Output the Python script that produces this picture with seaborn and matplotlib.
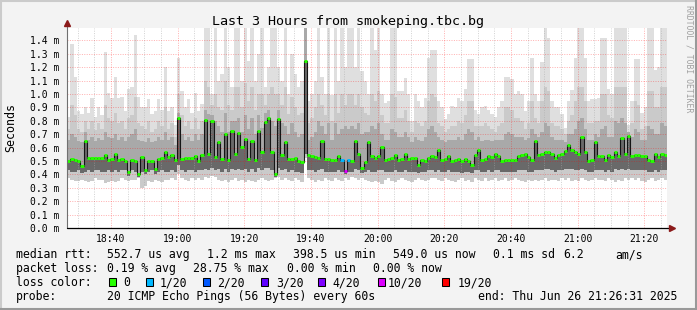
import numpy as np
import matplotlib
matplotlib.use("Agg")
import matplotlib.pyplot as plt
import seaborn as sns
from matplotlib.patches import Rectangle
from matplotlib.lines import Line2D

W, H = 697, 310

title = "Last 3 Hours from smokeping.tbc.bg"
y_label = "Seconds"
side_text = "RRDTOOL / TOBI OETIKER"

# x axis: minutes after 18:00
x_tick_minutes = [40, 60, 80, 100, 120, 140, 160, 180, 200]
x_tick_labels = ["18:40", "19:00", "19:20", "19:40", "20:00", "20:20", "20:40", "21:00", "21:20"]
x_minor_minutes = [30, 35, 45, 50, 55, 65, 70, 75, 85, 90, 95, 105, 110, 115, 125, 130, 135,
                   145, 150, 155, 165, 170, 175, 185, 190, 195, 205]
y_ticks = [0.0, 0.1, 0.2, 0.3, 0.4, 0.5, 0.6, 0.7, 0.8, 0.9, 1.0, 1.1, 1.2, 1.3, 1.4]
y_tick_labels = ["0.0 m", "0.1 m", "0.2 m", "0.3 m", "0.4 m", "0.5 m", "0.6 m", "0.7 m",
                 "0.8 m", "0.9 m", "1.0 m", "1.1 m", "1.2 m", "1.3 m", "1.4 m"]
start_minute = 26.8   # first 60 s column
n_cols = 180

# median rtt (ms) per minute
med = [0.50, 0.515, 0.51, 0.50, 0.46, 0.65, 0.52, 0.525, 0.52, 0.52,
       0.52, 0.545, 0.51, 0.515, 0.555, 0.51, 0.515, 0.50, 0.42, 0.51,
       0.50, 0.405, 0.53, 0.43, 0.50, 0.50, 0.44, 0.515, 0.52, 0.565,
       0.53, 0.545, 0.51, 0.82, 0.515, 0.525, 0.525, 0.52, 0.535, 0.50,
       0.545, 0.805, 0.55, 0.795, 0.53, 0.64, 0.515, 0.70, 0.51, 0.725,
       0.555, 0.71, 0.605, 0.665, 0.515, 0.65, 0.51, 0.725, 0.57, 0.79,
       0.82, 0.57, 0.40, 0.815, 0.545, 0.64, 0.515, 0.515, 0.52, 0.50,
       0.495, 1.244, 0.545, 0.535, 0.53, 0.52, 0.65, 0.515, 0.515, 0.51,
       0.51, 0.54, 0.51, 0.425, 0.51, 0.50, 0.65, 0.55, 0.445, 0.49,
       0.64, 0.535, 0.525, 0.54, 0.605, 0.51, 0.515, 0.52, 0.545, 0.51,
       0.515, 0.555, 0.515, 0.52, 0.52, 0.47, 0.51, 0.50, 0.525, 0.54,
       0.53, 0.585, 0.51, 0.515, 0.535, 0.50, 0.51, 0.515, 0.50, 0.515,
       0.50, 0.47, 0.545, 0.585, 0.51, 0.515, 0.54, 0.53, 0.555, 0.54,
       0.50, 0.51, 0.51, 0.51, 0.51, 0.54, 0.545, 0.55, 0.53, 0.51,
       0.65, 0.545, 0.555, 0.57, 0.57, 0.555, 0.52, 0.545, 0.555, 0.575,
       0.62, 0.58, 0.57, 0.55, 0.68, 0.565, 0.50, 0.51, 0.64, 0.535,
       0.54, 0.51, 0.545, 0.53, 0.57, 0.54, 0.67, 0.55, 0.69, 0.54,
       0.545, 0.545, 0.54, 0.54, 0.51, 0.50, 0.555, 0.53, 0.55, 0.545]

# slowest ping per minute (ms)
hi = [0.83, 1.37, 1.13, 0.87, 0.85, 0.90, 0.86, 0.97, 0.83, 0.90,
      0.84, 1.31, 1.01, 0.97, 1.13, 0.97, 0.98, 0.87, 1.04, 1.05,
      1.44, 0.98, 0.90, 0.90, 0.965, 0.85, 0.87, 0.965, 0.88, 1.20,
      0.87, 0.90, 0.77, 1.27, 1.02, 0.90, 0.96, 0.86, 1.01, 0.87,
      0.925, 1.49, 1.49, 1.00, 1.49, 1.10, 1.15, 1.49, 1.20, 1.05,
      1.49, 1.49, 1.10, 1.49, 1.25, 1.49, 1.10, 1.30, 1.49, 1.05,
      1.20, 1.49, 1.49, 1.20, 1.10, 1.49, 1.00, 1.30, 1.15, 1.05,
      1.10, 1.49, 0.95, 1.00, 1.10, 1.49, 1.13, 1.00, 1.49, 0.99,
      1.49, 1.10, 1.49, 1.20, 1.49, 1.49, 1.20, 1.49, 1.17, 1.10,
      1.00, 1.49, 1.33, 1.49, 1.00, 0.93, 0.95, 1.49, 1.49, 1.02,
      1.02, 1.12, 1.00, 0.80, 1.00, 0.95, 0.90, 0.97, 1.27, 1.33,
      1.33, 0.95, 0.90, 0.81, 0.85, 0.91, 0.90, 0.97, 0.95, 1.04,
      1.26, 1.26, 0.88, 0.85, 0.90, 0.91, 0.88, 0.85, 0.83, 0.90,
      0.95, 1.13, 1.13, 1.11, 1.00, 1.02, 1.00, 0.87, 0.95, 1.27,
      1.00, 0.95, 1.24, 1.49, 1.42, 0.95, 0.90, 0.90, 0.85, 0.75,
      0.95, 1.03, 1.27, 1.49, 1.49, 1.27, 0.95, 0.96, 0.96, 0.97,
      1.42, 1.42, 1.04, 1.00, 1.49, 1.49, 1.49, 1.49, 0.77, 0.95,
      1.26, 1.26, 0.86, 0.90, 1.49, 1.49, 1.18, 1.20, 1.49, 1.49]

# upper edge of the medium smoke
up = [0.74, 0.92, 0.84, 0.74, 0.72, 0.80, 0.74, 0.80, 0.73, 0.78,
      0.74, 0.92, 0.82, 0.80, 0.86, 0.78, 0.80, 0.74, 0.82, 0.84,
      0.98, 0.78, 0.76, 0.74, 0.80, 0.72, 0.74, 0.80, 0.76, 0.90,
      0.74, 0.78, 0.68, 1.00, 0.84, 0.76, 0.80, 0.74, 0.82, 0.74,
      0.80, 1.10, 1.05, 0.92, 1.00, 0.90, 0.88, 1.10, 0.92, 0.88,
      1.05, 1.05, 0.90, 1.08, 0.95, 1.05, 0.88, 1.00, 1.00, 0.92,
      1.00, 1.05, 1.00, 1.00, 0.92, 1.05, 0.85, 0.98, 0.90, 0.84,
      0.86, 1.49, 0.78, 0.82, 0.90, 1.00, 0.92, 0.84, 1.00, 0.80,
      1.00, 0.86, 1.00, 0.92, 1.00, 1.00, 0.92, 1.00, 0.90, 0.86,
      0.84, 1.00, 0.95, 1.02, 0.84, 0.78, 0.78, 1.00, 0.98, 0.82,
      0.82, 0.88, 0.80, 0.72, 0.80, 0.78, 0.76, 0.80, 0.95, 1.00,
      0.98, 0.78, 0.76, 0.72, 0.74, 0.76, 0.76, 0.80, 0.78, 0.84,
      0.95, 0.95, 0.76, 0.76, 0.76, 0.78, 0.76, 0.74, 0.72, 0.76,
      0.78, 0.90, 0.90, 0.88, 0.82, 0.82, 0.80, 0.74, 0.78, 0.95,
      0.82, 0.78, 0.95, 1.05, 1.02, 0.78, 0.76, 0.76, 0.74, 0.70,
      0.80, 0.84, 0.95, 1.05, 1.05, 0.95, 0.78, 0.78, 0.80, 0.80,
      1.00, 1.00, 0.84, 0.82, 1.05, 1.05, 1.05, 1.05, 0.72, 0.78,
      0.95, 0.92, 0.74, 0.76, 1.02, 1.02, 0.90, 0.90, 1.05, 1.05]

# upper edge of the darker smoke
mid = [0.66, 0.70, 0.68, 0.65, 0.64, 0.72, 0.66, 0.68, 0.65, 0.67,
       0.66, 0.72, 0.68, 0.67, 0.70, 0.66, 0.68, 0.65, 0.68, 0.70,
       0.74, 0.66, 0.65, 0.64, 0.67, 0.64, 0.65, 0.68, 0.66, 0.72,
       0.66, 0.68, 0.62, 0.86, 0.70, 0.66, 0.68, 0.65, 0.70, 0.66,
       0.70, 0.88, 0.85, 0.84, 0.80, 0.76, 0.72, 0.86, 0.72, 0.80,
       0.80, 0.82, 0.72, 0.84, 0.74, 0.82, 0.70, 0.84, 0.75, 0.86,
       0.88, 0.80, 0.76, 0.88, 0.78, 0.76, 0.70, 0.78, 0.72, 0.68,
       0.70, 1.49, 0.66, 0.68, 0.72, 0.80, 0.76, 0.70, 0.78, 0.66,
       0.78, 0.70, 0.74, 0.76, 0.74, 0.76, 0.74, 0.78, 0.70, 0.72,
       0.72, 0.76, 0.74, 0.78, 0.70, 0.66, 0.66, 0.74, 0.72, 0.68,
       0.68, 0.72, 0.68, 0.64, 0.68, 0.66, 0.65, 0.68, 0.74, 0.76,
       0.72, 0.68, 0.66, 0.64, 0.66, 0.66, 0.66, 0.68, 0.66, 0.70,
       0.74, 0.72, 0.66, 0.68, 0.65, 0.66, 0.66, 0.65, 0.66, 0.66,
       0.66, 0.70, 0.72, 0.70, 0.68, 0.68, 0.68, 0.66, 0.67, 0.74,
       0.70, 0.68, 0.72, 0.78, 0.76, 0.68, 0.66, 0.66, 0.66, 0.64,
       0.70, 0.70, 0.74, 0.80, 0.82, 0.74, 0.66, 0.66, 0.70, 0.68,
       0.74, 0.76, 0.68, 0.68, 0.80, 0.78, 0.82, 0.78, 0.72, 0.68,
       0.74, 0.72, 0.66, 0.66, 0.76, 0.74, 0.70, 0.70, 0.78, 0.76]

# lower edge of the darker smoke
dn = [0.43, 0.42, 0.42, 0.43, 0.41, 0.42, 0.43, 0.42, 0.43, 0.43,
      0.42, 0.42, 0.43, 0.42, 0.43, 0.42, 0.43, 0.43, 0.39, 0.43,
      0.42, 0.38, 0.42, 0.40, 0.42, 0.43, 0.40, 0.42, 0.43, 0.42,
      0.42, 0.43, 0.42, 0.47, 0.43, 0.42, 0.43, 0.43, 0.42, 0.43,
      0.43, 0.44, 0.43, 0.45, 0.43, 0.44, 0.42, 0.44, 0.42, 0.44,
      0.43, 0.44, 0.43, 0.44, 0.42, 0.44, 0.42, 0.45, 0.43, 0.45,
      0.45, 0.43, 0.38, 0.45, 0.43, 0.44, 0.42, 0.43, 0.42, 0.42,
      0.41, 0.55, 0.43, 0.43, 0.42, 0.43, 0.44, 0.42, 0.42, 0.42,
      0.42, 0.43, 0.42, 0.40, 0.42, 0.42, 0.44, 0.43, 0.41, 0.42,
      0.43, 0.42, 0.42, 0.43, 0.43, 0.42, 0.42, 0.42, 0.43, 0.42,
      0.42, 0.43, 0.42, 0.42, 0.42, 0.41, 0.42, 0.42, 0.43, 0.43,
      0.42, 0.43, 0.42, 0.42, 0.43, 0.42, 0.42, 0.42, 0.41, 0.42,
      0.42, 0.41, 0.43, 0.43, 0.42, 0.42, 0.43, 0.42, 0.43, 0.43,
      0.42, 0.42, 0.42, 0.42, 0.42, 0.43, 0.43, 0.43, 0.42, 0.42,
      0.43, 0.43, 0.43, 0.44, 0.44, 0.43, 0.42, 0.43, 0.43, 0.44,
      0.44, 0.44, 0.43, 0.43, 0.44, 0.43, 0.42, 0.42, 0.43, 0.43,
      0.43, 0.42, 0.43, 0.42, 0.44, 0.43, 0.44, 0.43, 0.44, 0.43,
      0.43, 0.43, 0.43, 0.43, 0.42, 0.42, 0.43, 0.42, 0.43, 0.43]

# fastest ping per minute (ms)
lo = [0.37, 0.36, 0.35, 0.35, 0.36, 0.35, 0.345, 0.35, 0.37, 0.36,
      0.36, 0.335, 0.34, 0.35, 0.345, 0.35, 0.37, 0.36, 0.35, 0.36,
      0.36, 0.37, 0.30, 0.31, 0.35, 0.345, 0.36, 0.35, 0.345, 0.36,
      0.36, 0.37, 0.36, 0.40, 0.37, 0.36, 0.35, 0.37, 0.36, 0.37,
      0.36, 0.38, 0.37, 0.39, 0.38, 0.36, 0.35, 0.36, 0.34, 0.36,
      0.37, 0.35, 0.36, 0.34, 0.36, 0.35, 0.34, 0.36, 0.37, 0.36,
      0.35, 0.36, 0.37, 0.38, 0.36, 0.37, 0.36, 0.35, 0.37, 0.36,
      0.34, 0.52, 0.37, 0.36, 0.34, 0.36, 0.35, 0.37, 0.36, 0.35,
      0.37, 0.36, 0.35, 0.37, 0.36, 0.38, 0.37, 0.36, 0.37, 0.36,
      0.35, 0.34, 0.35, 0.34, 0.33, 0.36, 0.37, 0.35, 0.34, 0.36,
      0.37, 0.36, 0.35, 0.34, 0.36, 0.37, 0.36, 0.35, 0.36, 0.37,
      0.37, 0.36, 0.35, 0.37, 0.36, 0.35, 0.34, 0.36, 0.37, 0.35,
      0.36, 0.34, 0.37, 0.36, 0.35, 0.37, 0.35, 0.36, 0.37, 0.35,
      0.36, 0.37, 0.35, 0.36, 0.37, 0.36, 0.35, 0.34, 0.36, 0.35,
      0.36, 0.35, 0.36, 0.37, 0.35, 0.36, 0.36, 0.35, 0.37, 0.36,
      0.37, 0.35, 0.36, 0.35, 0.37, 0.36, 0.35, 0.36, 0.37, 0.36,
      0.36, 0.35, 0.37, 0.36, 0.34, 0.36, 0.35, 0.37, 0.36, 0.37,
      0.36, 0.37, 0.35, 0.34, 0.36, 0.37, 0.35, 0.36, 0.37, 0.36]

# minutes with lost pings: (column, pings lost out of 20)
loss_events = [(82, 1), (83, 10), (84, 1)]

loss_levels = ["0", "1/20", "2/20", "3/20", "4/20", "10/20", "19/20"]
loss_counts = [0, 1, 2, 3, 4, 10, 19]
loss_colors = ["#26ff00", "#00b8ff", "#0059ff", "#5e00ff", "#7e00ff", "#dd00ff", "#ff0000"]

legend_rows = [
    [("median rtt:", 16), ("552.7 us avg", 107.3), ("1.2 ms max", 207.3), ("398.5 us min", 293.3),
     ("549.0 us now", 393.3), ("0.1 ms sd", 493.3), ("6.2", 563.3), ("am/s", 615.0)],
    [("packet loss:", 16), ("0.19 % avg", 107.3), ("28.75 % max", 193.3), ("0.00 % min", 286.7),
     ("0.00 % now", 372.7)],
    [("loss color:", 16)],
    [("probe:", 16), ("20 ICMP Echo Pings (56 Bytes) every 60s", 107.3),
     ("end: Thu Jun 26 21:26:31 2025", 478.3)],
]
legend_baselines = [258.3, 272.3, 286.3, 300.3]
box_x = [109.0, 145.7, 203.3, 260.7, 318.3, 377.7, 442.3]
box_label_x = [123.3, 160.0, 217.3, 276.7, 332.0, 387.3, 457.3]

# ---------------------------------------------------------------- styling
sns.set_style("white")
MONO = ["DejaVu Sans Mono"]
plt.rcParams["font.family"] = MONO
plt.rcParams["axes.linewidth"] = 0.72

fig = plt.figure(figsize=(W / 100, H / 100), dpi=100)
fig.patch.set_facecolor("#f3f3f3")

def fx(x):
    return x / W

def fy(y):
    return 1 - y / H

ax = fig.add_axes([fx(67), fy(228), 600 / W, 200 / H])
ax.set_facecolor("white")

edges = start_minute + np.arange(n_cols + 1)

def stepv(a):
    a = np.asarray(a, dtype=float)
    return np.append(a, a[-1])

# smoke bands, outer (light) to inner (dark)
bands = [(lo, hi, "#dfdfdf"), (lo, up, "#cacaca"), (dn, mid, "#a9a9a9"), (dn, med, "#696969")]
for z, (b, t, c) in enumerate(bands):
    ax.fill_between(edges, stepv(b), stepv(t), step="post", color=c, linewidth=0, zorder=1 + z)

ymax = 200 / 134
ax.set_xlim(edges[0], edges[-1])
ax.set_ylim(0, ymax)

# grid
for m in x_minor_minutes:
    ax.axvline(m, color="#a8a8a8", alpha=0.5, lw=0.72, ls=(0, (1.0, 1.4)), zorder=6)
for m in x_tick_minutes:
    ax.axvline(m, color="#ff0000", alpha=0.3, lw=0.72, ls=(0, (1.0, 1.4)), zorder=6)
for v in y_ticks[1:]:
    ax.axhline(v, color="#ff0000", alpha=0.3, lw=0.72, ls=(0, (1.0, 1.4)), zorder=6)

# median step line (dark) and loss-coloured median marks
sns.lineplot(x=edges, y=stepv(med), drawstyle="steps-post", color="#151515",
             linewidth=0.8, estimator=None, ax=ax, zorder=7)
col_loss = {c: n for c, n in loss_events}
seg_colors = [loss_colors[loss_counts.index(col_loss.get(i, 0))] for i in range(n_cols)]
ax.hlines(med, edges[:-1], edges[1:], colors=seg_colors, linewidth=2.1, zorder=8,
          capstyle="butt")

# axes cosmetics
for s in ["top", "right", "left", "bottom"]:
    ax.spines[s].set_visible(False)
ax.add_line(Line2D([0, 0], [0, 1.025], transform=ax.transAxes, color="#707070", lw=0.8,
                   clip_on=False, zorder=9))
ax.add_line(Line2D([0, 1.008], [0, 0], transform=ax.transAxes, color="#000000", lw=0.9,
                   clip_on=False, zorder=9))
ax.plot([0], [1.025], marker="^", ms=4.2, color="#8b1a1a", transform=ax.transAxes,
        clip_on=False, zorder=10)
ax.plot([1.008], [0], marker=">", ms=4.2, color="#8b1a1a", transform=ax.transAxes,
        clip_on=False, zorder=10)

ax.set_xticks(x_tick_minutes)
ax.set_xticklabels(x_tick_labels)
ax.set_xticks(x_minor_minutes, minor=True)
ax.set_yticks(y_ticks)
ax.set_yticklabels(y_tick_labels)
ax.tick_params(axis="x", which="major", length=2, width=0.7, color="#ff6060", pad=2.2,
               labelsize=7.0, labelcolor="#000000", direction="out")
ax.tick_params(axis="x", which="minor", length=2, width=0.7, color="#a0a0a0", direction="out")
ax.tick_params(axis="y", which="major", length=0, pad=5.4, labelsize=7.0, labelcolor="#000000")
ax.set_ylabel("")

# texts
fig.text(fx(348), fy(24.7), title, ha="center", va="baseline", fontsize=9.6, color="#000000")
fig.text(fx(11), fy(127), y_label, ha="center", va="center", rotation=90, fontsize=8.4,
         color="#000000")
fig.text(fx(689), fy(5), side_text, ha="center", va="top", rotation=270, fontsize=5.9,
         color="#a0a0a0")

for row, base in zip(legend_rows, legend_baselines):
    for txt, x in row:
        fig.text(fx(x), fy(base), txt, ha="left", va="baseline", fontsize=8.3, color="#000000")

for bx, lx, lab, col in zip(box_x, box_label_x, loss_levels, loss_colors):
    fig.add_artist(Rectangle((fx(bx), fy(285.8)), 7 / W, 7.5 / H, transform=fig.transFigure,
                             facecolor=col, edgecolor="#000000", linewidth=0.75))
    fig.text(fx(lx), fy(legend_baselines[2]), lab, ha="left", va="baseline", fontsize=8.3,
             color="#000000")

# frame (shade A top/left, shade B bottom/right)
fig.add_artist(Line2D([0, 1], [fy(0.75), fy(0.75)], transform=fig.transFigure, color="#cbcbcb", lw=1.5))
fig.add_artist(Line2D([fx(0.75), fx(0.75)], [0, 1], transform=fig.transFigure, color="#cbcbcb", lw=1.5))
fig.add_artist(Line2D([0, 1], [fy(309.25), fy(309.25)], transform=fig.transFigure, color="#999999", lw=1.5))
fig.add_artist(Line2D([fx(696.25), fx(696.25)], [0, 1], transform=fig.transFigure, color="#999999", lw=1.5))

fig.savefig("out.png", dpi=100, facecolor=fig.get_facecolor())
